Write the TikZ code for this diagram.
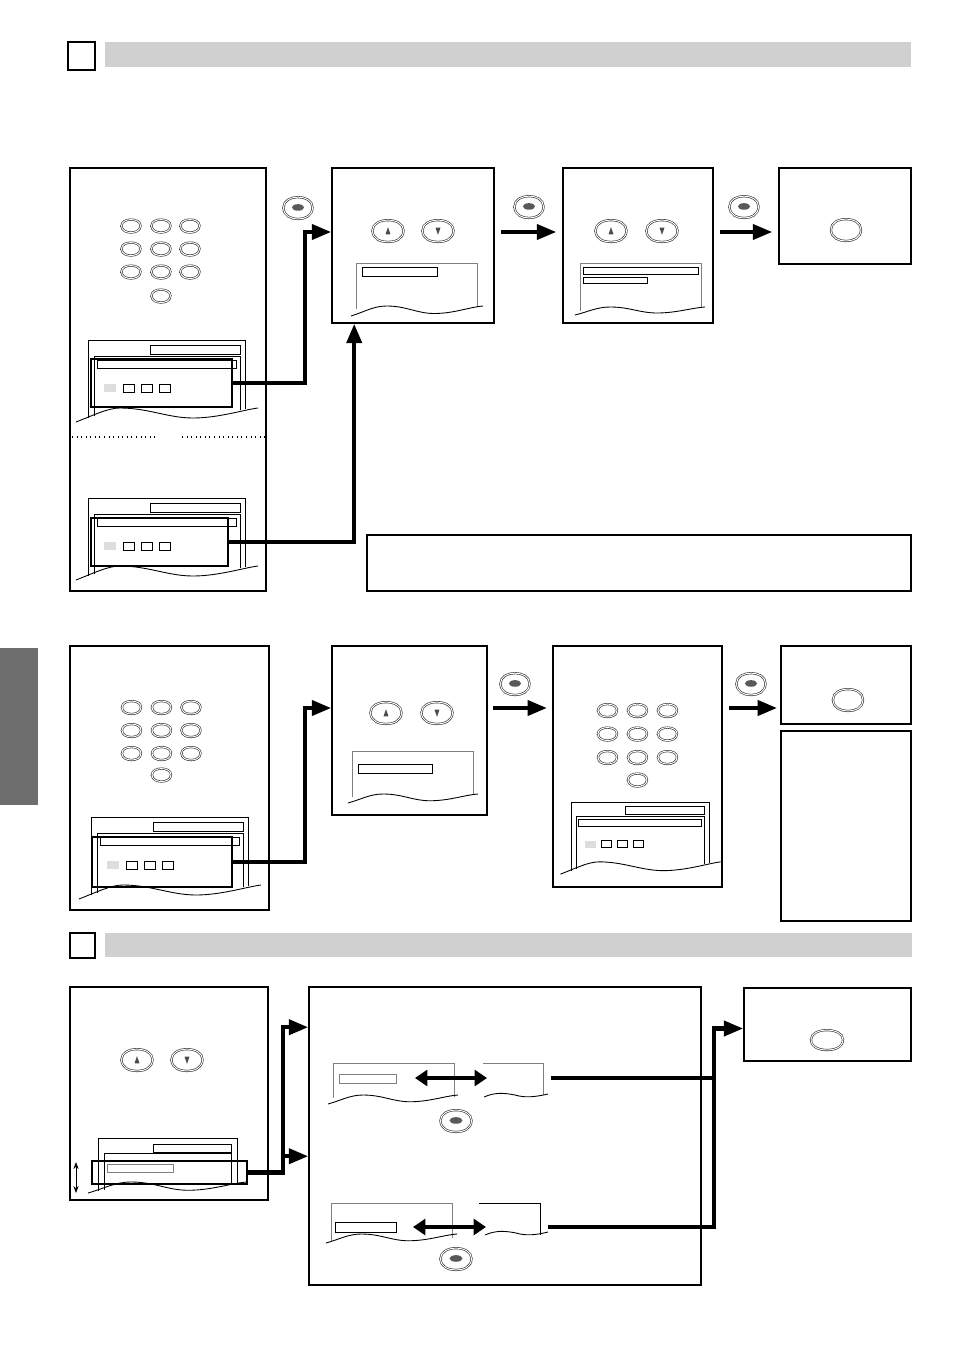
\documentclass[tikz,border=0pt]{standalone}
\usepackage{tikz}
\usetikzlibrary{arrows.meta,positioning,calc,fit}
\definecolor{hdrgray}{RGB}{208,208,208}
\definecolor{tabgray}{RGB}{110,110,110}
\definecolor{keygray}{RGB}{221,221,221}
\tikzset{
    keyline/.style={draw=black!80, double=white, double distance=0.55pt, line width=0.35pt},
    keyshape/.style={insert path={(-1,-0.05) .. controls (-1,-1.3) and (1,-1.3) .. (1,-0.05) .. controls (1,0.75) and (0.45,1) .. (0,1) .. controls (-0.45,1) and (-1,0.75) .. cycle}},
    scr/.style={line width=0.5pt},
    btnkey/.pic={\draw[keyline, keyshape];},
    btnenter/.pic={\draw[keyline, keyshape]; \fill[black!65] (0,-0.05) ellipse (0.42 and 0.3);},
    btnup/.pic={\draw[keyline, keyshape]; \fill[black!70] (-0.16,0.3) -- (0.16,0.3) -- (0,-0.35) -- cycle;},
    btndown/.pic={\draw[keyline, keyshape]; \fill[black!70] (-0.16,-0.3) -- (0.16,-0.3) -- (0,0.35) -- cycle;},
    wave/.pic={\draw[scr] (0,1) .. controls (0.1,0.6) and (0.17,0) .. (0.27,0) .. controls (0.42,0) and (0.5,0.75) .. (0.63,0.75) .. controls (0.78,0.75) and (0.9,0.1) .. (1,0);},
    setup/.pic={
        \draw[scr] (0,78) -- (0,0) -- (157,0) -- (157,69);
        \draw[scr] (62,5) rectangle (152,14);
        \draw[scr] (6,76) -- (6,16) -- (152,16) -- (152,70);
        \draw[scr] (9,20) rectangle (148,28);
        \fill[keygray] (16,44) rectangle (28,52);
        \foreach \x in {35,53,71} \draw[scr] (\x,44) rectangle ++(11,8);
        \draw[scr] (-12,82) .. controls (6,75) and (20,68) .. (32,68) .. controls (60,68) and (80,78) .. (105,78) .. controls (130,78) and (155,70) .. (170,68);
    }
}

\begin{document}
\begin{tikzpicture}[
    x=0.02cm, y=-0.02cm,
    frame/.style={draw, line width=0.9pt, inner sep=0pt},
    hilite/.style={draw, line width=1.6pt, inner sep=0pt},
    band/.style={inner sep=0pt},
    conn/.style={line width=2.3pt, -{Triangle[length=11pt,width=8.5pt]}},
    swing/.style={line width=2.3pt, {Triangle[length=7pt,width=9pt]}-{Triangle[length=7pt,width=9pt]}}
]
    \useasboundingbox (0,0) rectangle (954,1348);

    % Header 1
    \node[frame, fit={(68,42)(95,70)}] (num1) {};
    \node[band, fill=hdrgray, fit={(105,42)(911,67)}] (bar1) {};

    % Side tab
    \node[band, fill=tabgray, fit={(0,648)(38,805)}] (tab) {};

    % Row 1
    \node[frame, fit={(70,168)(266,591)}] (pA) {};
    \foreach \y in {226,249,272} \foreach \x in {131,161,190} \pic[xscale=9.5,yscale=6.5] at (\x,\y) {btnkey};
    \pic[xscale=9.5,yscale=6.5] at (161,296) {btnkey};
    \pic at (88,340) {setup};
    \node[hilite, fit={(91,359)(232,407)}] (hlA) {};
    \draw[dotted, line width=0.6pt] (72,437) -- (155,437) (182,437) -- (266,437);
    \pic at (88,498) {setup};
    \node[hilite, fit={(91,518)(228,566)}] (hlA2) {};

    \node[frame, fit={(332,168)(494,323)}] (pB) {};
    \pic[xscale=15.5,yscale=11] at (388,231) {btnup};
    \pic[xscale=15.5,yscale=11] at (438,231) {btndown};
    \draw[scr, gray] (356,309) -- (356,263) -- (477,263) -- (477,307);
    \draw[scr] (362,267) rectangle (437,276);
    \pic[xscale=132,yscale=10] at (351,306) {wave};

    \node[frame, fit={(563,168)(713,323)}] (pC) {};
    \pic[xscale=15.5,yscale=11] at (611,231) {btnup};
    \pic[xscale=15.5,yscale=11] at (662,231) {btndown};
    \draw[scr, gray] (580,311) -- (580,263) -- (701,263) -- (701,307);
    \draw[scr] (583,267) rectangle (698,274);
    \draw[scr] (583,277) rectangle (647,283);
    \pic[xscale=130,yscale=8] at (575,307) {wave};

    \node[frame, fit={(779,168)(911,264)}] (pD) {};
    \pic[xscale=15,yscale=11] at (846,230) {btnkey};

    \node[frame, fit={(367,535)(911,591)}] (note) {};

    \pic[xscale=14.5,yscale=11] at (298,208) {btnenter};
    \pic[xscale=14.5,yscale=11] at (529,207) {btnenter};
    \pic[xscale=14.5,yscale=11] at (744,207) {btnenter};

    \coordinate (row1) at (0,232);
    \draw[conn] (hlA.east) -- ++(72,0) |- (pB.west |- row1);
    \draw[conn] (hlA2.east) -| ($(pB.south west)+(23,0)$);
    \draw[conn, shorten <=3.4pt, shorten >=3.4pt] (pB.east |- row1) -- (pC.west |- row1);
    \draw[conn, shorten <=3.4pt, shorten >=3.4pt] (pC.east |- row1) -- (pD.west |- row1);

    % Row 2
    \node[frame, fit={(70,646)(269,910)}] (pF) {};
    \foreach \y in {707.5,730.5,753.5} \foreach \x in {131.5,161.5,191} \pic[xscale=9.5,yscale=6.5] at (\x,\y) {btnkey};
    \pic[xscale=9.5,yscale=6.5] at (161.5,775) {btnkey};
    \pic at (91,817) {setup};
    \node[hilite, fit={(92,837)(232,887)}] (hlF) {};

    \node[frame, fit={(332,646)(487,815)}] (pG) {};
    \pic[xscale=15.5,yscale=11] at (386,713) {btnup};
    \pic[xscale=15.5,yscale=11] at (437,713) {btndown};
    \draw[scr, gray] (352,797) -- (352,751) -- (473,751) -- (473,795);
    \draw[scr] (358,764) rectangle (432,773);
    \pic[xscale=130,yscale=9] at (348,794) {wave};

    \node[frame, fit={(553,646)(722,887)}] (pH) {};
    \foreach \y in {710.5,734,757.5} \foreach \x in {607.5,637.5,667.5} \pic[xscale=9.5,yscale=6.5] at (\x,\y) {btnkey};
    \pic[xscale=9.5,yscale=6.5] at (637.5,780) {btnkey};
    \pic[scale=0.88] at (571,802) {setup};

    \node[frame, fit={(781,646)(911,724)}] (pI) {};
    \pic[xscale=15,yscale=11] at (848,700) {btnkey};
    \node[frame, fit={(781,731)(911,921)}] (pJ) {};

    \pic[xscale=14.5,yscale=11] at (515,684) {btnenter};
    \pic[xscale=14.5,yscale=11] at (751,684) {btnenter};

    \coordinate (row2) at (0,708);
    \draw[conn] (hlF.east) -- ++(72,0) |- (pG.west |- row2);
    \draw[conn, shorten <=3pt, shorten >=3pt] (pG.east |- row2) -- (pH.west |- row2);
    \draw[conn, shorten <=3.4pt, shorten >=1.8pt] (pH.east |- row2) -- (pI.west |- row2);

    % Header 2
    \node[frame, fit={(70,933)(95,958)}] (num2) {};
    \node[band, fill=hdrgray, fit={(105,933)(912,957)}] (bar2) {};

    % Row 3
    \node[frame, fit={(70,987)(268,1200)}] (pK) {};
    \pic[xscale=15.5,yscale=11] at (137,1060) {btnup};
    \pic[xscale=15.5,yscale=11] at (187,1060) {btndown};
    \draw[scr] (98,1191) -- (98,1138) -- (237,1138) -- (237,1184);
    \draw[scr] (153,1144) rectangle (231,1152);
    \draw[scr] (104,1190) -- (104,1153) -- (231,1153) -- (231,1184);
    \draw[scr, gray] (107,1164) rectangle (173,1172);
    \pic[xscale=159,yscale=11] at (88,1182) {wave};
    \node[hilite, fit={(92,1161)(247,1184)}] (hlK) {};
    \coordinate (scrollT) at (76,1162);
    \coordinate (scrollB) at (76,1193);
    \draw[line width=0.5pt, {Stealth[length=4pt,width=3pt]}-{Stealth[length=4pt,width=3pt]}] (scrollT) -- (scrollB);

    \node[frame, fit={(309,987)(701,1285)}] (pL) {};
    % upper pair
    \draw[scr, gray] (333,1098) -- (333,1063) -- (454,1063) -- (454,1097);
    \draw[scr, gray] (339,1074) rectangle (396,1083);
    \pic[xscale=130,yscale=9] at (328,1095) {wave};
    \draw[scr, gray] (483,1063) -- (543,1063) -- (543,1095);
    \draw[scr] (484,1097) .. controls (495,1092) and (505,1093) .. (515,1095) .. controls (525,1098) and (535,1097) .. (548,1094);
    \coordinate (swA) at (415,1078);
    \coordinate (swB) at (487,1078);
    \draw[swing] (swA) -- (swB);
    \pic[xscale=15.5,yscale=11] at (456,1121) {btnenter};
    % lower pair
    \draw[scr, gray] (331,1241) -- (331,1203) -- (452,1203) -- (452,1238);
    \draw[scr] (335,1222) rectangle (396,1232);
    \pic[xscale=131,yscale=9] at (326,1234) {wave};
    \draw[scr] (479,1203) -- (540,1203) -- (540,1235);
    \draw[scr] (485,1235) .. controls (496,1230) and (506,1231) .. (516,1233) .. controls (526,1236) and (536,1235) .. (548,1232);
    \coordinate (swC) at (413,1227);
    \coordinate (swD) at (486,1227);
    \draw[swing] (swC) -- (swD);
    \pic[xscale=15.5,yscale=11] at (456,1259) {btnenter};

    \node[frame, fit={(744,988)(911,1061)}] (pM) {};
    \pic[xscale=16,yscale=10] at (827,1040) {btnkey};

    \coordinate (jK) at ($(hlK.east)+(35,0)$);
    \coordinate (inL1) at ($(pL.north west)+(0,41)$);
    \coordinate (inL2) at ($(pL.north west)+(0,170)$);
    \draw[conn] (hlK.east) -- (jK) |- (inL1);
    \draw[conn] (jK |- inL2) -- (inL2);

    \coordinate (outA) at (551,1078);
    \coordinate (outB) at (548,1227);
    \coordinate (inM) at ($(pM.west)+(0,4)$);
    \draw[conn] (outA) -- ++(163,0) |- (inM);
    \draw[line width=2.3pt] (outB) -| ($(outA)+(163,0)$);
\end{tikzpicture}
\end{document}
